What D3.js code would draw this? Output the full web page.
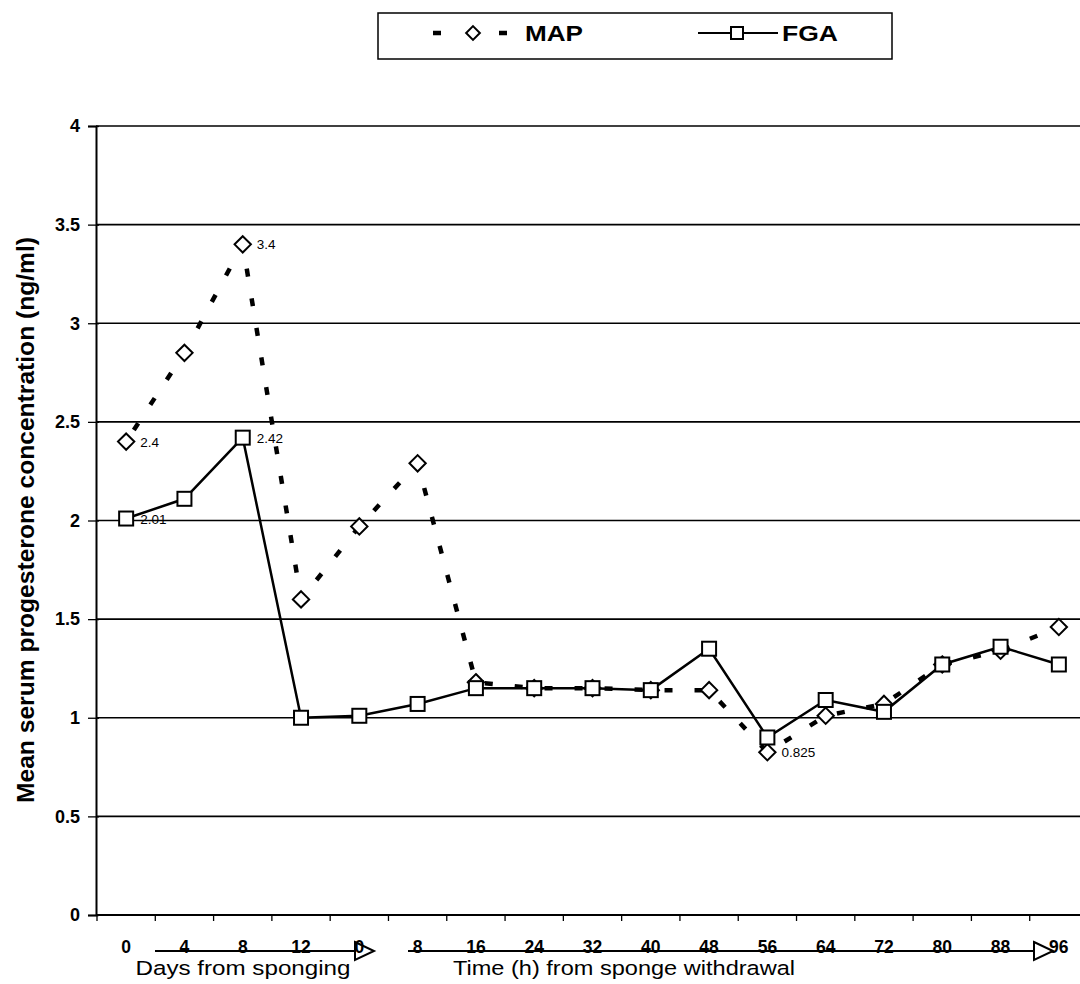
<!DOCTYPE html>
<html>
<head>
<meta charset="utf-8">
<script src="https://cdn.jsdelivr.net/npm/d3@7"></script>
<style>
	body { margin: 0; background: #fff; }
	svg { display: block; font-family: Arial, "Liberation Sans", sans-serif; }
</style>
</head>
<body>
<div id="chart"></div>
<script>
// Categories along the x axis (days from sponging, then hours from withdrawal)
const tickLabels = ['0', '4', '8', '12', '0', '8', '16', '24', '32', '40', '48', '56', '64', '72', '80', '88', '96'];
const mapValues = [2.4, 2.85, 3.4, 1.6, 1.97, 2.29, 1.18, 1.15, 1.15, 1.14, 1.14, 0.825, 1.01, 1.07, 1.27, 1.34, 1.46];
const fgaValues = [2.01, 2.11, 2.42, 1.0, 1.01, 1.07, 1.15, 1.15, 1.15, 1.14, 1.35, 0.9, 1.09, 1.03, 1.27, 1.36, 1.27];
const mapLabels = { 0: '2.4', 2: '3.4', 11: '0.825' };
const fgaLabels = { 0: '2.01', 2: '2.42' };
const yTicks = [0, 0.5, 1, 1.5, 2, 2.5, 3, 3.5, 4];

const width = 1080, height = 984;

const svg = d3.select('#chart').append('svg')
	.attr('width', width)
	.attr('height', height);

// Scales
const x = d3.scaleBand()
	.domain(d3.range(tickLabels.length))
	.range([97, 1088])
	.padding(0);
const y = d3.scaleLinear()
	.domain([0, 4])
	.range([915, 126]);
const cx = i => x(i) + x.bandwidth() / 2;

// Gridlines
svg.append('g')
	.selectAll('line')
	.data(yTicks.filter(d => d > 0))
.join('line')
	.attr('x1', 96).attr('x2', width)
	.attr('y1', d => y(d)).attr('y2', d => y(d))
	.attr('stroke', '#000')
	.attr('stroke-width', 1.6);

// Y axis
const yAxis = svg.append('g')
	.attr('transform', 'translate(96,0)')
	.call(d3.axisLeft(y).tickValues(yTicks).tickSize(8).tickFormat(d => d))
	.call(g => g.select('.domain').attr('stroke-width', 2));
yAxis.selectAll('.tick line').attr('x2', -8).attr('x1', 3).attr('stroke-width', 1.3);
yAxis.selectAll('text')
	.attr('x', -16)
	.style('font-size', '18px')
	.style('font-weight', 'bold')
	.style('fill', '#000');

svg.append('text')
	.attr('transform', 'translate(34,520) rotate(-90)')
	.attr('text-anchor', 'middle')
	.attr('textLength', 566)
	.attr('lengthAdjust', 'spacingAndGlyphs')
	.style('font-size', '24px')
	.style('font-weight', 'bold')
	.text('Mean serum progesterone concentration (ng/ml)');

// X axis line with boundary ticks
svg.append('line')
	.attr('x1', 96).attr('x2', width)
	.attr('y1', y(0)).attr('y2', y(0))
	.attr('stroke', '#000')
	.attr('stroke-width', 2);
svg.append('g')
	.selectAll('line')
	.data(d3.range(tickLabels.length))
.join('line')
	.attr('x1', d => x(d)).attr('x2', d => x(d))
	.attr('y1', y(0)).attr('y2', y(0) + 6)
	.attr('stroke', '#000')
	.attr('stroke-width', 1.3);

// Arrows under the x labels
const arrowY = 951;
const arrow = function(x1, x2) {
	svg.append('line')
		.attr('x1', x1).attr('x2', x2 - 19)
		.attr('y1', arrowY).attr('y2', arrowY)
		.attr('stroke', '#000')
		.attr('stroke-width', 2);
	svg.append('path')
		.attr('d', 'M' + (x2 - 19) + ',' + (arrowY - 9) + 'L' + x2 + ',' + arrowY + 'L' + (x2 - 19) + ',' + (arrowY + 9) + 'Z')
		.attr('fill', 'none')
		.attr('stroke', '#000')
		.attr('stroke-width', 2);
};
arrow(155, 374);
arrow(408, 1053);

const xAxis = svg.append('g')
	.attr('transform', 'translate(0,' + y(0) + ')')
	.call(d3.axisBottom(x).tickSize(0).tickFormat(i => tickLabels[i]))
	.call(g => g.select('.domain').remove());
xAxis.selectAll('text')
	.attr('y', 26)
	.style('font-size', '17.5px')
	.style('font-weight', 'bold')
	.style('fill', '#000');

svg.append('text')
	.attr('x', 243).attr('y', 975)
	.attr('text-anchor', 'middle')
	.attr('textLength', 215)
	.attr('lengthAdjust', 'spacingAndGlyphs')
	.style('font-size', '20.5px')
	.text('Days from sponging');
svg.append('text')
	.attr('x', 624).attr('y', 975)
	.attr('text-anchor', 'middle')
	.attr('textLength', 342)
	.attr('lengthAdjust', 'spacingAndGlyphs')
	.style('font-size', '20.5px')
	.text('Time (h) from sponge withdrawal');

// Series lines
const line = d3.line()
	.x((d, i) => cx(i))
	.y(d => y(d));

svg.append('path')
	.datum(mapValues)
	.attr('d', line)
	.attr('fill', 'none')
	.attr('stroke', '#000')
	.attr('stroke-width', 4.5)
	.attr('stroke-dasharray', '8,22')
	.attr('stroke-dashoffset', -14);

svg.append('path')
	.datum(fgaValues)
	.attr('d', line)
	.attr('fill', 'none')
	.attr('stroke', '#000')
	.attr('stroke-width', 2.5);

// Markers
const diamond = d3.symbol().type(d3.symbolDiamond2).size(170);
svg.append('g')
	.selectAll('path')
	.data(mapValues)
.join('path')
	.attr('d', diamond)
	.attr('transform', (d, i) => 'translate(' + cx(i) + ',' + y(d) + ')')
	.attr('fill', '#fff')
	.attr('stroke', '#000')
	.attr('stroke-width', 2);

svg.append('g')
	.selectAll('rect')
	.data(fgaValues)
.join('rect')
	.attr('x', (d, i) => cx(i) - 7)
	.attr('y', d => y(d) - 7)
	.attr('width', 14)
	.attr('height', 14)
	.attr('fill', '#fff')
	.attr('stroke', '#000')
	.attr('stroke-width', 2);

// Data labels
const labelGroup = svg.append('g').style('font-size', '13.5px');
for (const [i, t] of Object.entries(mapLabels)) {
	labelGroup.append('text')
		.attr('x', cx(+i) + 14)
		.attr('y', y(mapValues[i]) + 5)
		.text(t);
}
for (const [i, t] of Object.entries(fgaLabels)) {
	labelGroup.append('text')
		.attr('x', cx(+i) + 14)
		.attr('y', y(fgaValues[i]) + 5)
		.text(t);
}

// Legend
const legend = svg.append('g');
legend.append('rect')
	.attr('x', 378).attr('y', 13)
	.attr('width', 514).attr('height', 46)
	.attr('fill', '#fff')
	.attr('stroke', '#000')
	.attr('stroke-width', 1.5);
legend.append('line')
	.attr('x1', 433).attr('x2', 511)
	.attr('y1', 33).attr('y2', 33)
	.attr('stroke', '#000')
	.attr('stroke-width', 4.5)
	.attr('stroke-dasharray', '8,58');
legend.append('path')
	.attr('d', d3.symbol().type(d3.symbolDiamond2).size(120))
	.attr('transform', 'translate(473,33)')
	.attr('fill', '#fff')
	.attr('stroke', '#000')
	.attr('stroke-width', 2);
legend.append('text')
	.attr('x', 525).attr('y', 41)
	.attr('textLength', 58)
	.attr('lengthAdjust', 'spacingAndGlyphs')
	.style('font-size', '22px')
	.style('font-weight', 'bold')
	.text('MAP');
legend.append('line')
	.attr('x1', 698).attr('x2', 778)
	.attr('y1', 33).attr('y2', 33)
	.attr('stroke', '#000')
	.attr('stroke-width', 2);
legend.append('rect')
	.attr('x', 731).attr('y', 27)
	.attr('width', 12).attr('height', 12)
	.attr('fill', '#fff')
	.attr('stroke', '#000')
	.attr('stroke-width', 2);
legend.append('text')
	.attr('x', 782).attr('y', 41)
	.attr('textLength', 56)
	.attr('lengthAdjust', 'spacingAndGlyphs')
	.style('font-size', '22px')
	.style('font-weight', 'bold')
	.text('FGA');
</script>
</body>
</html>
